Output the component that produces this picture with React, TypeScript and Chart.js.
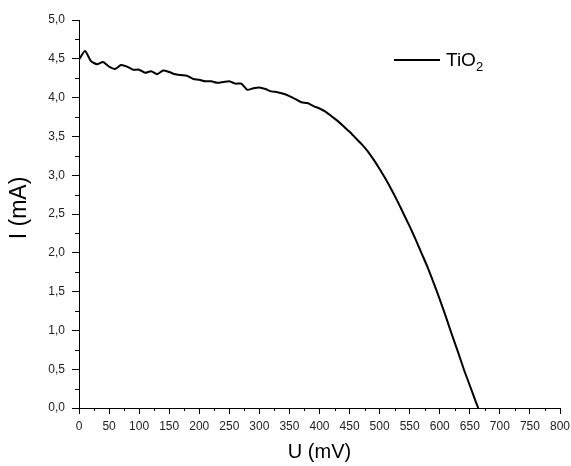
import React, { useEffect, useRef } from "react";
import { Chart, registerables } from "chart.js";

Chart.register(...registerables);

const voltageMV = [
  0, 10, 20, 30, 40, 50, 60, 70, 80, 90, 100, 110, 120, 130, 140, 150, 160, 170, 180, 190,
  200, 210, 220, 230, 240, 250, 260, 270, 280, 290, 300, 310, 320, 330, 340, 350, 360, 370,
  380, 390, 400, 410, 420, 430, 440, 450, 460, 470, 480, 490, 500, 510, 520, 530, 540, 550,
  560, 570, 580, 590, 600, 610, 620, 630, 640, 650, 660, 664,
];
const currentMA = [
  4.49, 4.6, 4.47, 4.43, 4.46, 4.4, 4.37, 4.42, 4.4, 4.36, 4.36, 4.32, 4.34, 4.3, 4.35, 4.33,
  4.3, 4.29, 4.28, 4.24, 4.23, 4.21, 4.21, 4.19, 4.2, 4.21, 4.18, 4.18, 4.1, 4.12, 4.13, 4.11,
  4.08, 4.07, 4.05, 4.02, 3.98, 3.94, 3.93, 3.89, 3.86, 3.82, 3.76, 3.7, 3.63, 3.56, 3.48, 3.4,
  3.31, 3.2, 3.08, 2.95, 2.81, 2.66, 2.5, 2.34, 2.17, 1.99, 1.81, 1.61, 1.4, 1.18, 0.95, 0.73,
  0.5, 0.29, 0.08, 0,
];
const seriesName = "TiO";
const seriesSub = "2";
const xTitle = "U (mV)";
const yTitle = "I (mA)";

const FONT = "Arial, 'Liberation Sans', sans-serif";

const extras = {
  id: "extras",
  afterDraw(chart: any) {
    const { ctx, scales } = chart;
    const x = scales.x;
    const y = scales.y;
    ctx.save();
    ctx.strokeStyle = "#000";
    ctx.lineWidth = 1;
    ctx.beginPath();
    for (let v = 25; v < 800; v += 50) {
      const px = Math.round(x.getPixelForValue(v)) + 0.5;
      ctx.moveTo(px, x.top);
      ctx.lineTo(px, x.top + 3);
    }
    for (let v = 0.25; v < 5; v += 0.5) {
      const py = Math.round(y.getPixelForValue(v)) + 0.5;
      ctx.moveTo(y.right, py);
      ctx.lineTo(y.right - 4, py);
    }
    ctx.stroke();

    // y title
    ctx.fillStyle = "#000";
    ctx.save();
    ctx.translate(20, 208);
    ctx.rotate(-Math.PI / 2);
    ctx.textAlign = "center";
    ctx.textBaseline = "middle";
    ctx.font = `23px ${FONT}`;
    ctx.fillText(yTitle, 0, 0);
    ctx.restore();

    // legend
    ctx.beginPath();
    ctx.lineWidth = 2;
    ctx.moveTo(394, 60);
    ctx.lineTo(440, 60);
    ctx.stroke();
    ctx.textBaseline = "alphabetic";
    ctx.textAlign = "left";
    ctx.font = `19px ${FONT}`;
    ctx.fillText(seriesName, 446, 66);
    const w = ctx.measureText(seriesName).width;
    ctx.font = `13px ${FONT}`;
    ctx.fillText(seriesSub, 446 + w, 71);
    ctx.restore();
  },
};

export default function App() {
  const ref = useRef<HTMLCanvasElement>(null);
  useEffect(() => {
    if (!ref.current) return;
    const chart = new Chart(ref.current, {
      type: "line",
      data: {
        datasets: [
          {
            label: seriesName + seriesSub,
            data: voltageMV.map((u, i) => ({ x: u, y: currentMA[i] })),
            borderColor: "#000",
            borderWidth: 2,
            pointRadius: 0,
            tension: 0.2,
            fill: false,
          },
        ],
      },
      options: {
        animation: false,
        responsive: false,
        layout: { padding: { top: 20, right: 0, left: 0, bottom: 0 } },
        plugins: { legend: { display: false }, tooltip: { enabled: false } },
        scales: {
          x: {
            type: "linear",
            min: 0,
            max: 800,
            afterFit: (s: any) => {
              s.height = 58;
              s.paddingRight = 11;
              s.paddingLeft = 0;
            },
            ticks: {
              stepSize: 50,
              color: "#222",
              font: { family: FONT, size: 12 },
              padding: 5,
              maxRotation: 0,
              autoSkip: false,
            },
            grid: {
              drawOnChartArea: false,
              drawTicks: true,
              tickLength: 6,
              color: "#000",
            },
            border: { display: true, color: "#000", width: 1 },
            title: {
              display: true,
              text: xTitle,
              color: "#000",
              font: { family: FONT, size: 20 },
              padding: { top: 0, bottom: 2 },
            },
          },
          y: {
            type: "linear",
            min: 0,
            max: 5,
            afterFit: (s: any) => {
              s.width = 79;
              s.paddingTop = 0;
              s.paddingBottom = 0;
            },
            ticks: {
              stepSize: 0.5,
              color: "#222",
              font: { family: FONT, size: 12 },
              padding: 7,
              callback: (v: any) => Number(v).toFixed(1).replace(".", ","),
            },
            grid: {
              drawOnChartArea: false,
              drawTicks: true,
              tickLength: 7,
              color: "#000",
            },
            border: { display: true, color: "#000", width: 1 },
            title: { display: false },
          },
        },
      },
      plugins: [extras],
    });
    return () => chart.destroy();
  }, []);
  return (
    <div style={{ position: "absolute", left: 0, top: 0, width: 571, height: 466, background: "#fff" }}>
      <canvas ref={ref} width={571} height={466} />
    </div>
  );
}
